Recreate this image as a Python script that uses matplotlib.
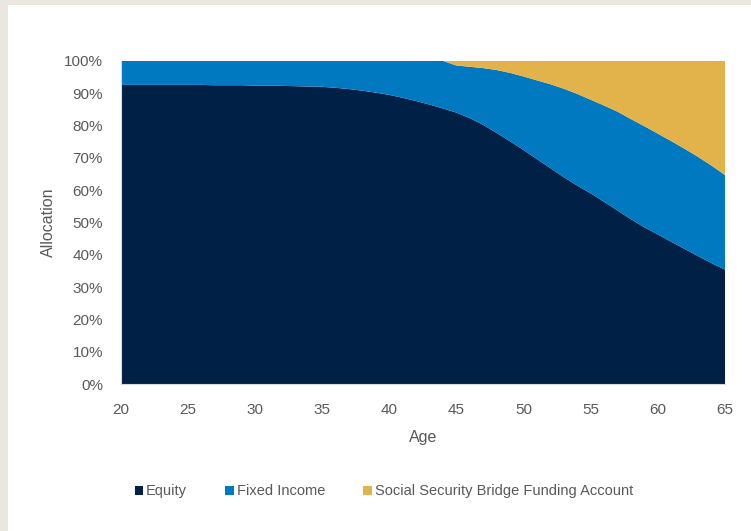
import matplotlib.pyplot as plt
from matplotlib.patches import Rectangle
from matplotlib.ticker import PercentFormatter

plt.rcParams['font.family'] = ['Liberation Sans', 'DejaVu Sans']

ages = list(range(20, 66))

# allocation in % by age
equity = [92.6, 92.6, 92.6, 92.6, 92.6, 92.6, 92.6, 92.5, 92.5, 92.5,
          92.4, 92.4, 92.3, 92.2, 92.1, 92.0, 91.7, 91.3, 90.8, 90.2,
          89.5, 88.6, 87.6, 86.5, 85.3, 84.0, 82.3, 80.2, 77.7, 75.1,
          72.4, 69.6, 66.8, 64.0, 61.4, 59.0, 56.4, 53.7, 51.0, 48.5,
          46.3, 44.0, 41.8, 39.6, 37.4, 35.4]
fixed_income = [7.4, 7.4, 7.4, 7.4, 7.4, 7.4, 7.4, 7.5, 7.5, 7.5,
                7.6, 7.6, 7.7, 7.8, 7.9, 8.0, 8.3, 8.7, 9.2, 9.8,
                10.5, 11.4, 12.4, 13.5, 14.7, 14.6, 15.9, 17.6, 19.5, 21.2,
                22.8, 24.4, 26.0, 27.4, 28.4, 29.0, 29.8, 30.6, 31.0, 31.3,
                31.2, 31.2, 31.0, 30.7, 30.2, 29.3]
ss_bridge = [0, 0, 0, 0, 0, 0, 0, 0, 0, 0,
             0, 0, 0, 0, 0, 0, 0, 0, 0, 0,
             0, 0, 0, 0, 0, 1.4, 1.8, 2.2, 2.8, 3.7,
             4.8, 6.0, 7.2, 8.6, 10.2, 12.0, 13.8, 15.7, 18.0, 20.2,
             22.5, 24.8, 27.2, 29.7, 32.4, 35.3]

labels = ['Equity', 'Fixed Income', 'Social Security Bridge Funding Account']
colors = ['#002145', '#0079C1', '#E2B34B']
fs = 11

fig = plt.figure(figsize=(7.51, 5.31), dpi=100, facecolor='#EBE6DF')
fig.patches.append(Rectangle((8 / 751, 0), 1, 1 - 5 / 531, transform=fig.transFigure,
                             facecolor='white', edgecolor='none', zorder=-10))
ax = fig.add_axes([121 / 751, 1 - 384 / 531, 604 / 751, 323 / 531])

ax.stackplot(ages, equity, fixed_income, ss_bridge, labels=labels, colors=colors,
             linewidth=0)

ax.set_xlim(20, 65)
ax.set_ylim(0, 100)
ax.set_xticks(range(20, 66, 5))
ax.set_yticks(range(0, 101, 10))
ax.yaxis.set_major_formatter(PercentFormatter(decimals=0))
ax.tick_params(length=0, labelsize=fs, labelcolor='#595959')
ax.tick_params(axis='y', pad=13)
ax.tick_params(axis='x', pad=14)
for s in ['top', 'right']:
    ax.spines[s].set_visible(False)
for s in ['left', 'bottom']:
    ax.spines[s].set_color('#D9D9D9')

ax.set_xlabel('Age', fontsize=fs + 0.5, color='#595959', labelpad=9)
ax.set_ylabel('Allocation', fontsize=fs + 0.5, color='#595959', labelpad=6)

leg = ax.legend(loc='upper center', bbox_to_anchor=(0.435, -0.27), ncol=3, frameon=False,
                fontsize=fs - 0.5, handlelength=0.6, handleheight=0.6, handletextpad=0.2,
                columnspacing=2.6)
for t in leg.get_texts():
    t.set_color('#595959')

fig.savefig('out.png', dpi=100, facecolor=fig.get_facecolor())
